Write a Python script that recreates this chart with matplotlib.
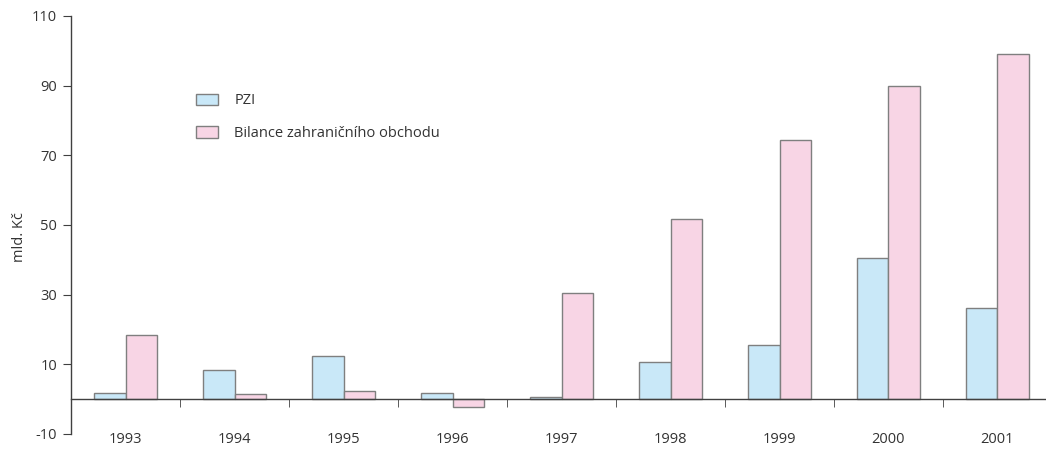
import numpy as np
import matplotlib
matplotlib.use('Agg')
from matplotlib import pyplot as plt

plt.rcParams['font.family'] = ['Open Sans', 'DejaVu Sans']
plt.rcParams['axes.unicode_minus'] = False

years = ['1993', '1994', '1995', '1996', '1997', '1998', '1999', '2000', '2001']
pzi = [1.9, 8.4, 12.4, 1.8, 0.5, 10.8, 15.6, 40.5, 26.2]
bilance = [18.4, 1.5, 2.4, -2.3, 30.5, 51.7, 74.4, 89.9, 99.1]
y_ticks = [-10, 10, 30, 50, 70, 90, 110]

fig = plt.figure(figsize=(10.46, 4.65), dpi=100)
ax = fig.add_axes([0.0679, 0.0667, 0.9321, 0.8989])

x = np.arange(len(years))
width = 0.285
ax.bar(x - width/2, pzi, width=width, color='#c9e8f8', edgecolor='#7f7f7f',
       linewidth=1, label='PZI')
ax.bar(x + width/2, bilance, width=width, color='#f8d5e5', edgecolor='#7f7f7f',
       linewidth=1, label='Bilance zahraničního obchodu')

ax.set_xlim(-0.5, 8.445)
ax.set_ylim(-10, 110)
ax.set_yticks(y_ticks)
ax.set_xticks(x)
ax.set_xticklabels(years)
ax.set_xticks(x[:-1] + 0.5, minor=True)

for s in ['top', 'right']:
    ax.spines[s].set_visible(False)
ax.spines['bottom'].set_position(('data', 0))
for s in ['left', 'bottom']:
    ax.spines[s].set_color('#404040')
    ax.spines[s].set_linewidth(1)

ax.tick_params(axis='y', direction='out', length=6, color='#404040',
               labelsize=10.5, labelcolor='#333333', pad=4)
ax.tick_params(axis='x', which='major', length=0, pad=24,
               labelsize=10.5, labelcolor='#333333')
ax.tick_params(axis='x', which='minor', direction='out', length=6,
               color='#404040')

ax.set_ylabel('mld. Kč', fontsize=10.5, color='#333333')
ax.yaxis.set_label_coords(-0.045, 0.47)

ax.legend(loc='upper left', bbox_to_anchor=(0.115, 0.846), frameon=False,
          fontsize=10.5, handlelength=1.5, handleheight=0.8,
          labelspacing=1.2, handletextpad=1.1, labelcolor='#333333')

fig.savefig('out.png', dpi=100)
